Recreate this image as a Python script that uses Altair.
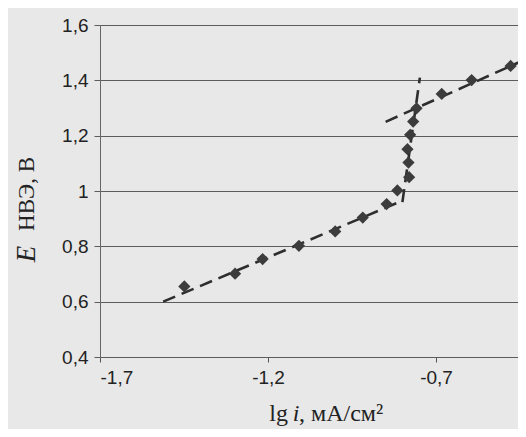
import altair as alt
import pandas as pd

# measured points: lg i (mA/cm^2) vs E (V, NHE)
lg_i = [-1.449, -1.298, -1.216, -1.108, -1.000, -0.918, -0.847, -0.815,
        -0.780, -0.782, -0.785, -0.777, -0.768, -0.758, -0.683, -0.594, -0.478]
E_v = [0.655, 0.701, 0.754, 0.802, 0.854, 0.904, 0.953, 1.002,
       1.050, 1.103, 1.151, 1.203, 1.251, 1.299, 1.351, 1.401, 1.452]

# dashed trend lines (endpoints)
trend_name = ["lower", "lower", "vertical", "vertical", "upper", "upper"]
trend_x = [-1.512, -0.800, -0.800, -0.748, -0.850, -0.400]
trend_y = [0.600, 0.965, 0.960, 1.410, 1.250, 1.494]

x_ticks = [-1.7, -1.2, -0.7]
y_ticks = [0.4, 0.6, 0.8, 1.0, 1.2, 1.4, 1.6]

pts = pd.DataFrame({"x": lg_i, "y": E_v})
trend = pd.DataFrame({"line": trend_name, "x": trend_x, "y": trend_y})

xs = alt.Scale(domain=[-1.7, -0.456], nice=False, zero=False)
ys = alt.Scale(domain=[0.4, 1.6], nice=False, zero=False)

lbl = ("datum.value == 1 ? '1' : "
       "replace(replace(format(datum.value, '.1f'), '.', ','), '\u2212', '-')")

x_axis = alt.Axis(values=x_ticks, labelExpr=lbl, title=None, grid=False,
                  tickSize=5, tickColor="#555", domain=False,
                  labelFont="Liberation Sans", labelFontSize=19, labelColor="#222",
                  labelPadding=6)
y_axis = alt.Axis(values=y_ticks, labelExpr=lbl, title=None, grid=True,
                  gridColor="#5c5c5c", gridWidth=1.1,
                  tickSize=6, tickColor="#5c5c5c", domainColor="#666", domainWidth=1,
                  labelFont="Liberation Sans", labelFontSize=19, labelColor="#222",
                  labelPadding=6)

lines = alt.Chart(trend).mark_line(
    strokeDash=[13, 7], strokeWidth=2.6, color="#2e2e2e", clip=True
).encode(
    x=alt.X("x:Q", scale=xs, axis=x_axis),
    y=alt.Y("y:Q", scale=ys, axis=y_axis),
    detail="line:N",
)

markers = alt.Chart(pts).mark_point(
    shape="diamond", filled=True, size=150, color="#3c3c3c", opacity=1
).encode(x=alt.X("x:Q", scale=xs), y=alt.Y("y:Q", scale=ys))

one = pd.DataFrame({"a": [0]})
serif = "Liberation Serif"
t_E = alt.Chart(one).mark_text(text="E", font=serif, fontStyle="italic", fontSize=27,
                               angle=270, align="center", baseline="middle", color="#222"
                               ).encode(x=alt.value(-73), y=alt.value(229))
t_nve = alt.Chart(one).mark_text(text="НВЭ, В", font=serif, fontSize=23,
                                 angle=270, align="center", baseline="middle", color="#222"
                                 ).encode(x=alt.value(-73), y=alt.value(169))
t_lg = alt.Chart(one).mark_text(text="lg", font=serif, fontSize=24, align="right",
                                baseline="alphabetic", color="#222"
                                ).encode(x=alt.value(188), y=alt.value(396))
t_i = alt.Chart(one).mark_text(text="i", font=serif, fontSize=24, fontStyle="italic",
                               align="center", baseline="alphabetic", color="#222"
                               ).encode(x=alt.value(196), y=alt.value(396))
t_unit = alt.Chart(one).mark_text(text=", мА/см²", font=serif, fontSize=24, align="left",
                                  baseline="alphabetic", color="#222"
                                  ).encode(x=alt.value(199), y=alt.value(396))

chart = alt.layer(lines, markers, t_E, t_nve, t_lg, t_i, t_unit).properties(
    width=418, height=332,
    autosize=alt.AutoSizeParams(type="none"),
    padding={"left": 92, "top": 17, "right": 0, "bottom": 72},
    background="#e8e8e8",
).configure_view(stroke=None)

chart.save("out.html", embed_options={"renderer": "svg", "actions": False})
